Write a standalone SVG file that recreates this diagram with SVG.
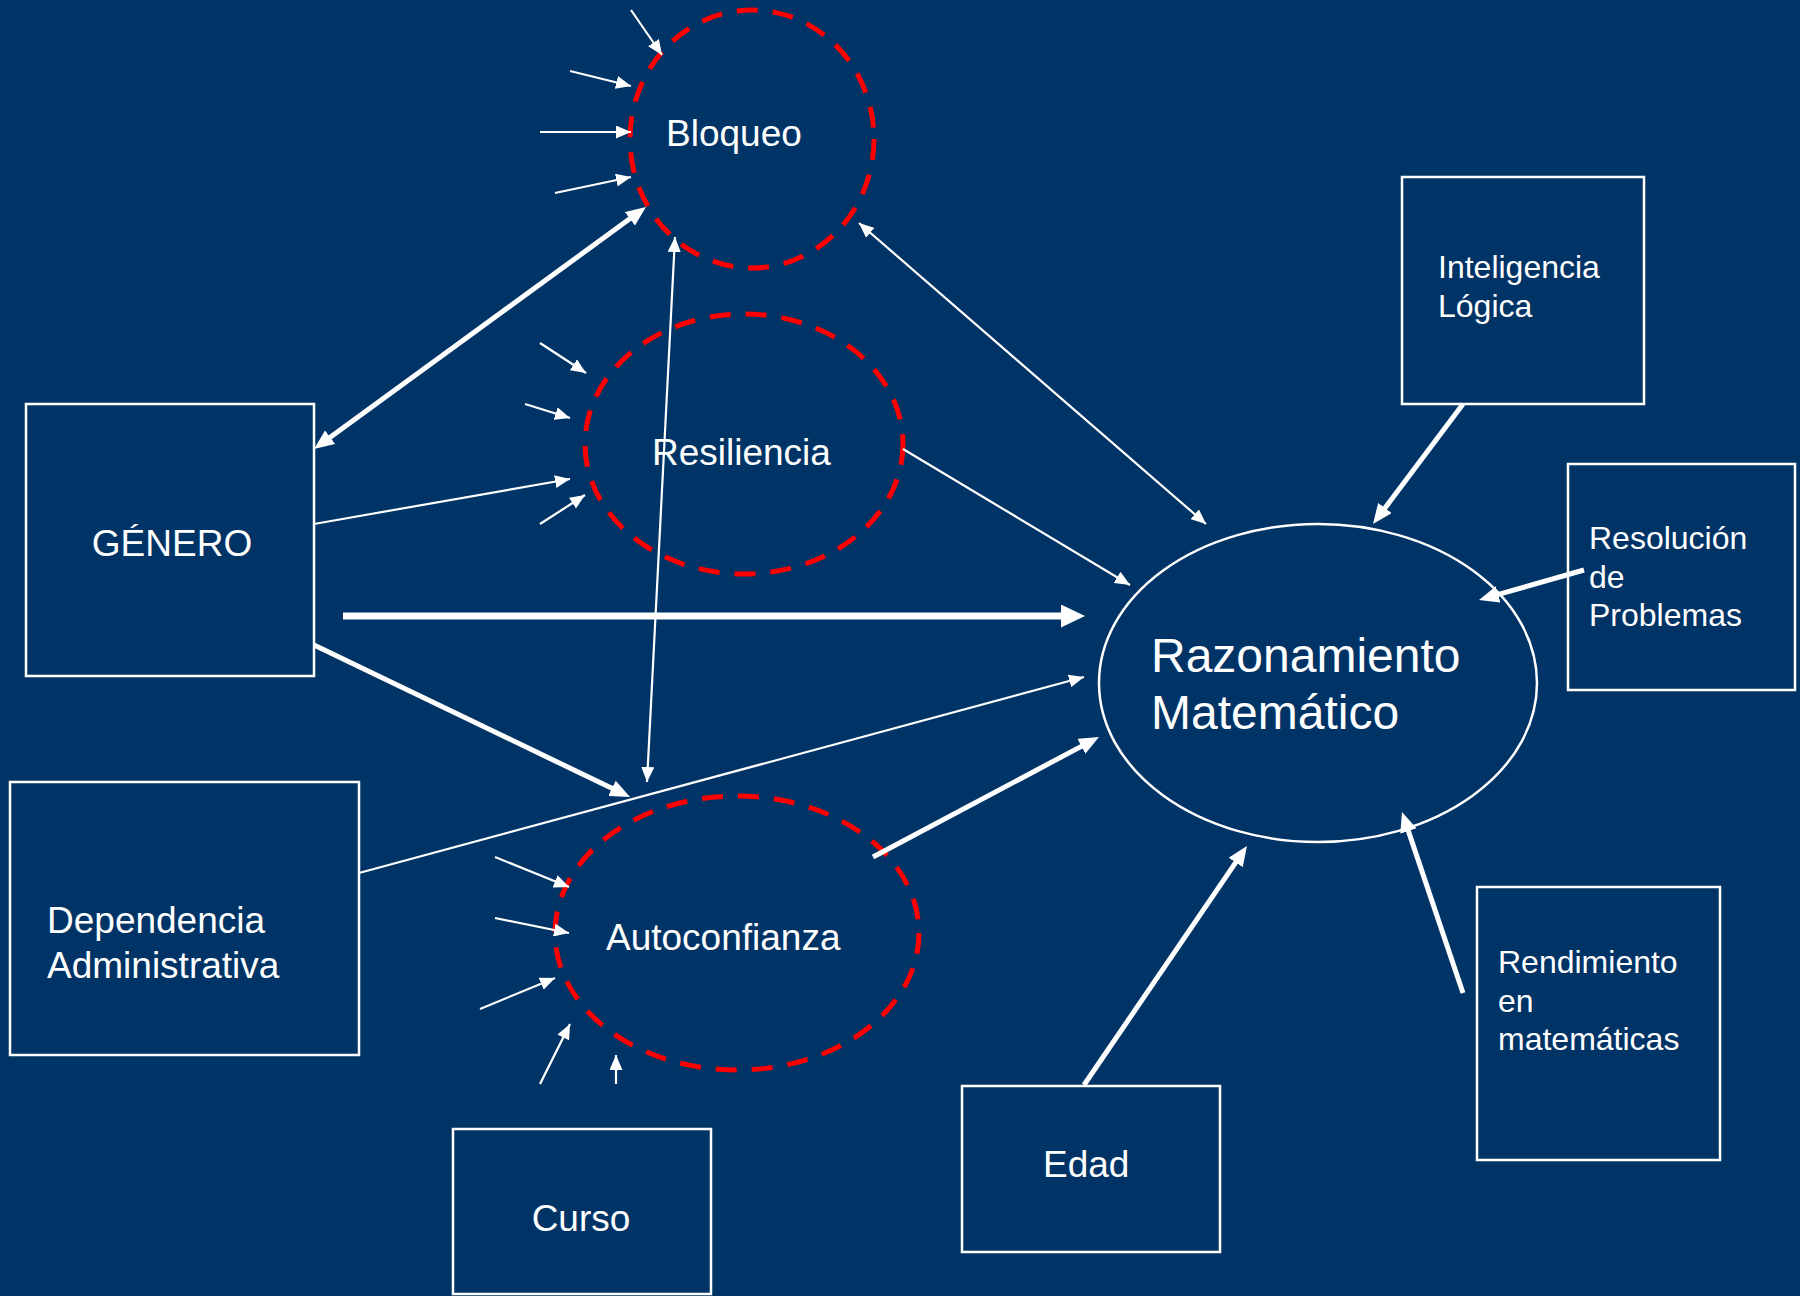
<svg xmlns="http://www.w3.org/2000/svg" width="1800" height="1296" viewBox="0 0 1800 1296">
<defs>
<style>
.box{fill:none;stroke:#ffffff;stroke-width:2.5}
.dash{fill:none;stroke:#ff0000;stroke-width:5;stroke-dasharray:21 15}
.main{fill:none;stroke:#ffffff;stroke-width:2.5}
.t{fill:#ffffff;font-family:"Liberation Sans",Arial,sans-serif}
.thin{stroke:#ffffff;stroke-width:2.2;fill:none;marker-end:url(#ah)}
.thin2{stroke:#ffffff;stroke-width:2.2;fill:none;marker-start:url(#ah);marker-end:url(#ah)}
.thick{stroke:#ffffff;stroke-width:5;fill:none;marker-end:url(#ahT)}
.thick2{stroke:#ffffff;stroke-width:5;fill:none;marker-start:url(#ahT);marker-end:url(#ahT)}
.xthick{stroke:#ffffff;stroke-width:7;fill:none;marker-end:url(#ahX)}
</style>
<marker id="ah" markerUnits="userSpaceOnUse" markerWidth="15" markerHeight="13" refX="15" refY="6.5" orient="auto-start-reverse"><path d="M0,0 L15,6.5 L0,13 z" fill="#ffffff"/></marker>
<marker id="ahT" markerUnits="userSpaceOnUse" markerWidth="20" markerHeight="17" refX="8" refY="8.5" orient="auto-start-reverse"><path d="M0,0 L20,8.5 L0,17 z" fill="#ffffff"/></marker>
<marker id="ahX" markerUnits="userSpaceOnUse" markerWidth="24" markerHeight="23" refX="10" refY="11.5" orient="auto-start-reverse"><path d="M0,0 L24,11.5 L0,23 z" fill="#ffffff"/></marker>
</defs>
<rect x="0" y="0" width="1800" height="1296" fill="#003366"/>

<g id="genero"><rect class="box" x="26" y="404" width="288" height="272"/><text class="t" x="172" y="556" font-size="37" text-anchor="middle">GÉNERO</text></g>
<g id="dependencia"><rect class="box" x="10" y="782" width="349" height="273"/><text class="t" font-size="37"><tspan x="47" y="933">Dependencia</tspan><tspan x="47" y="978">Administrativa</tspan></text></g>
<g id="curso"><rect class="box" x="453" y="1129" width="258" height="165"/><text class="t" x="581" y="1231" font-size="37" text-anchor="middle">Curso</text></g>
<g id="edad"><rect class="box" x="962" y="1086" width="258" height="166"/><text class="t" x="1043" y="1177" font-size="37">Edad</text></g>
<g id="rendimiento"><rect class="box" x="1477" y="887" width="243" height="273"/><text class="t" font-size="32"><tspan x="1498" y="973">Rendimiento</tspan><tspan x="1498" y="1012">en</tspan><tspan x="1498" y="1050">matemáticas</tspan></text></g>
<g id="resolucion"><rect class="box" x="1568" y="464" width="227" height="226"/><text class="t" font-size="32"><tspan x="1589" y="549">Resolución</tspan><tspan x="1589" y="588">de</tspan><tspan x="1589" y="626">Problemas</tspan></text></g>
<g id="inteligencia"><rect class="box" x="1402" y="177" width="242" height="227"/><text class="t" font-size="32"><tspan x="1438" y="278">Inteligencia</tspan><tspan x="1438" y="317">Lógica</tspan></text></g>

<g id="bloqueo"><ellipse class="dash" cx="752" cy="139" rx="122" ry="129"/><text class="t" x="666" y="146" font-size="37">Bloqueo</text></g>
<g id="resiliencia"><ellipse class="dash" cx="744" cy="444" rx="159" ry="130"/><text class="t" x="652" y="465" font-size="37">Resiliencia</text></g>
<g id="autoconfianza"><ellipse class="dash" cx="737" cy="933" rx="182" ry="137"/><text class="t" x="606" y="950" font-size="37">Autoconfianza</text></g>
<g id="razonamiento"><ellipse class="main" cx="1318" cy="683" rx="219" ry="159"/><text class="t" font-size="48"><tspan x="1151" y="672">Razonamiento</tspan><tspan x="1151" y="729">Matemático</tspan></text></g>

<g id="connectors">
<line class="thin" x1="631" y1="10" x2="662" y2="55"/>
<line class="thin" x1="570" y1="71" x2="631" y2="86"/>
<line class="thin" x1="540" y1="132" x2="631" y2="132"/>
<line class="thin" x1="555" y1="193" x2="631" y2="177"/>
<line class="thin" x1="540" y1="343" x2="586" y2="373"/>
<line class="thin" x1="525" y1="404" x2="570" y2="418"/>
<line class="thin" x1="540" y1="524" x2="585" y2="495"/>
<line class="thin" x1="314" y1="524" x2="570" y2="479"/>
<line class="thin" x1="495" y1="857" x2="569" y2="887"/>
<line class="thin" x1="495" y1="918" x2="569" y2="933"/>
<line class="thin" x1="480" y1="1009" x2="555" y2="978"/>
<line class="thin" x1="540" y1="1084" x2="570" y2="1024"/>
<line class="thin" x1="616" y1="1084" x2="616" y2="1055"/>
<line class="thin2" x1="675" y1="237" x2="647" y2="782"/>
<line class="thin2" x1="859" y1="223" x2="1206" y2="524"/>
<line class="thin" x1="903" y1="449" x2="1130" y2="585"/>
<line class="thin" x1="359" y1="873" x2="1084" y2="677"/>
<line class="thick2" x1="323.7" y1="441.9" x2="636.3" y2="214.1"/>
<line class="thick" x1="314" y1="645" x2="619.2" y2="791.8"/>
<line class="thick" x1="873" y1="857" x2="1088.4" y2="742.6"/>
<line class="thick" x1="1463" y1="404" x2="1380.2" y2="514.4"/>
<line class="thick" x1="1584" y1="570" x2="1490.5" y2="596.7"/>
<line class="thick" x1="1084" y1="1085" x2="1240.2" y2="855.9"/>
<line class="thick" x1="1463" y1="993" x2="1405.8" y2="823.4"/>
<line class="xthick" x1="343" y1="616" x2="1071" y2="616"/>
</g>
</svg>
